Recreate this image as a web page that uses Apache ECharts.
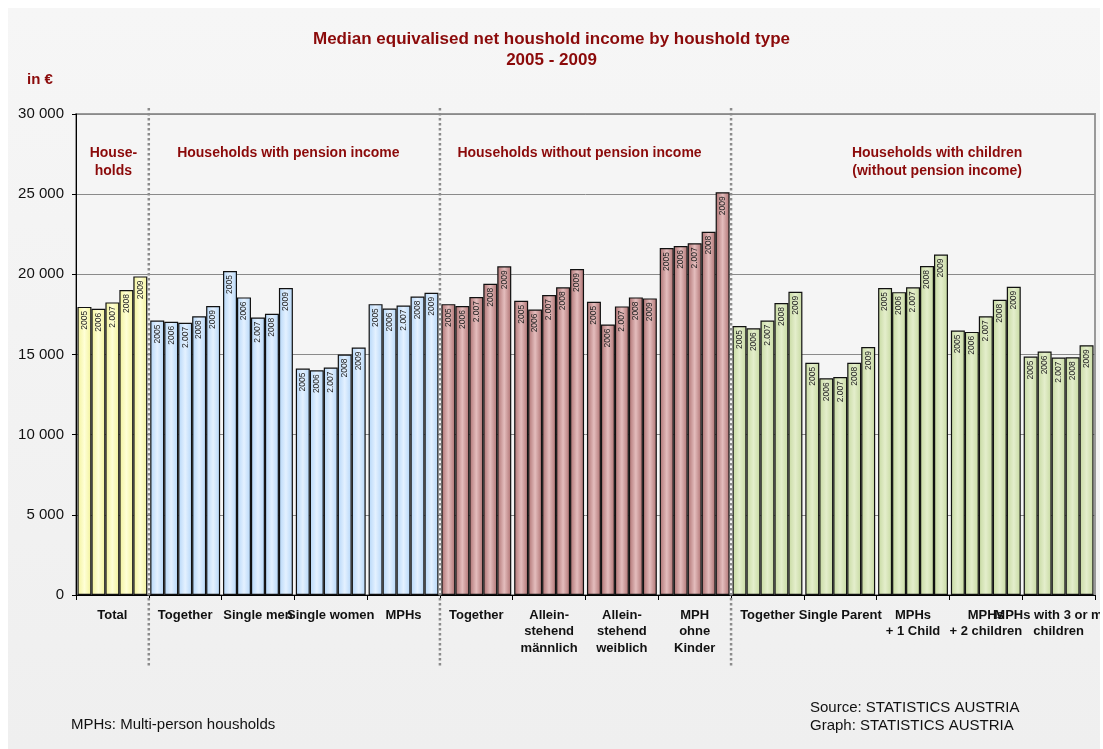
<!DOCTYPE html>
<html>
<head>
<meta charset="utf-8">
<script src="https://cdn.jsdelivr.net/npm/echarts@6/dist/echarts.min.js"></script>
<style>
  html, body { margin: 0; padding: 0; background: #ffffff; }
  #wrap { position: relative; width: 1103px; height: 749px; overflow: hidden; }
  #panel { position: absolute; left: 8px; top: 8px; width: 1092px; height: 741px;
           background: linear-gradient(#f6f6f6, #efefef); }
  #chart { position: absolute; left: 0; top: 0; width: 1103px; height: 749px; }
</style>
</head>
<body>
<div id="wrap"><div id="panel"></div><div id="chart"></div></div>
<script>
// Household types along the x axis
const categories = [
  'Total',
  'Together', 'Single men', 'Single women', 'MPHs',
  'Together', 'Allein-\nstehend\nmännlich', 'Allein-\nstehend\nweiblich', 'MPH\nohne\nKinder',
  'Together', 'Single Parent', 'MPHs\n+ 1 Child', 'MPHs\n+ 2 children', 'MPHs with 3 or more\nchildren'
];
// Which block each household type belongs to (0 all, 1 pension, 2 no pension, 3 children)
const groupOf = [0, 1, 1, 1, 1, 2, 2, 2, 2, 3, 3, 3, 3, 3];
// Year labels written inside the bars
const yearLabels = ['2005', '2006', '2.007', '2008', '2009'];
// Median equivalised net income in EUR per year
const v2005 = [17970, 17120, 20210, 14120, 18140, 18140, 18350, 18290, 21640, 16770, 14480, 19140, 16500, 14870];
const v2006 = [17850, 17040, 18560, 14020, 17870, 18020, 17810, 16870, 21770, 16640, 13520, 18890, 16410, 15190];
const v2007 = [18250, 16980, 17310, 14190, 18060, 18580, 18710, 18000, 21940, 17120, 13600, 19190, 17390, 14810];
const v2008 = [19020, 17390, 17540, 15000, 18620, 19410, 19190, 18560, 22660, 18210, 14480, 20520, 18410, 14830];
const v2009 = [19870, 18020, 19140, 15440, 18850, 20500, 20330, 18500, 25120, 18910, 15460, 21230, 19230, 15580];
// Block headings
const blockTitles = ['House-\nholds', 'Households with pension income', 'Households without pension income',
  'Households with children\n(without pension income)'];
const yTicks = [0, 5000, 10000, 15000, 20000, 25000, 30000];

const yearSeries = [v2005, v2006, v2007, v2008, v2009];
const DARK_RED = '#8b0a0a';
const FONT = '"Liberation Sans", Arial, sans-serif';

// Bar fills per block: edge colour and centre highlight
const fills = [
  ['#f2f29a', '#ffffd6'],
  ['#b4d6f8', '#e4f1ff'],
  ['#ad7070', '#e4bdbd'],
  ['#c6d9a0', '#e4eecc']
];
function fillFor(g) {
  const f = fills[g];
  return new echarts.graphic.LinearGradient(0, 0, 1, 0, [
    { offset: 0, color: f[0] },
    { offset: 0.5, color: f[1] },
    { offset: 1, color: f[0] }
  ]);
}

function fmt(v) {
  return String(v).replace(/\B(?=(\d{3})+(?!\d))/g, ' ');
}

const series = yearSeries.map((vals, k) => ({
  type: 'bar',
  name: yearLabels[k],
  barGap: '0%',
  barCategoryGap: '4%',
  data: vals.map((v, i) => ({
    value: v,
    itemStyle: { color: fillFor(groupOf[i]), borderColor: '#111', borderWidth: 1.2 }
  })),
  label: {
    show: true,
    position: 'insideTop',
    rotate: 90,
    align: 'right',
    verticalAlign: 'middle',
    distance: 4,
    fontSize: 8.5,
    fontFamily: FONT,
    color: '#222',
    formatter: () => yearLabels[k]
  }
}));

const chart = echarts.init(document.getElementById('chart'), null, { renderer: 'canvas' });
chart.setOption({
  backgroundColor: 'transparent',
  animation: false,
  textStyle: { fontFamily: FONT },
  title: {
    text: 'Median equivalised net houshold income by houshold type\n2005 - 2009',
    left: 'center',
    top: 24,
    textStyle: { fontSize: 17, fontWeight: 'bold', color: DARK_RED, lineHeight: 21, fontFamily: FONT }
  },
  grid: {
    left: 76, right: 8, top: 114, bottom: 154,
    containLabel: false,
    outerBoundsMode: 'none',
    show: true, backgroundColor: '#f5f5f5', borderColor: '#999', borderWidth: 2
  },
  xAxis: {
    type: 'category',
    data: categories,
    axisLine: { lineStyle: { color: '#000', width: 1 } },
    axisTick: { show: true, alignWithLabel: false, length: 5, lineStyle: { color: '#000' } },
    axisLabel: {
      interval: 0, hideOverlap: false, margin: 12, fontSize: 13, fontWeight: 'bold', color: '#111',
      lineHeight: 16.5, fontFamily: FONT
    }
  },
  yAxis: {
    type: 'value',
    min: yTicks[0], max: yTicks[yTicks.length - 1], interval: 5000,
    axisLine: { show: true, lineStyle: { color: '#000', width: 1 } },
    axisTick: { show: true, length: 4, lineStyle: { color: '#000' } },
    splitLine: { lineStyle: { color: '#8a8a8a', width: 1 } },
    axisLabel: { fontSize: 15, color: '#111', margin: 12, formatter: fmt, fontFamily: FONT }
  },
  series: series
});

// Block separators, headings and notes placed from the axis scales
function xAt(i) { return chart.convertToPixel({ xAxisIndex: 0 }, i); }
function yAt(v) { return chart.convertToPixel({ yAxisIndex: 0 }, v); }
function between(i) { return (xAt(i) + xAt(i + 1)) / 2; }

const sepAfter = [0, 4, 8];
const yTop = yAt(30000) - 6;
const yBottom = yAt(0) + 73;
const graphics = sepAfter.map(i => ({
  type: 'line',
  z: 50,
  shape: { x1: between(i), y1: yTop, x2: between(i), y2: yBottom },
  style: { stroke: '#8c8c8c', lineWidth: 2.5, lineDash: [2.5, 2.5] }
}));

const headY = yAt(28000) - 2;
const headX = [xAt(0) + 1, between(2) - 6, between(6) - 6, xAt(11) + 0.33 * (xAt(12) - xAt(11))];
blockTitles.forEach((t, b) => {
  graphics.push({
    type: 'text', z: 60,
    style: {
      x: headX[b], y: headY, text: t, textAlign: 'center', textVerticalAlign: 'top',
      font: 'bold 14px ' + FONT, fill: DARK_RED, lineHeight: 18
    }
  });
});

graphics.push(
  { type: 'text', z: 60, style: { x: 27, y: 72, text: 'in €', font: 'bold 15px ' + FONT, fill: DARK_RED } },
  { type: 'text', z: 60, style: { x: 71, y: 717, text: 'MPHs: Multi-person housholds',
      font: '15px ' + FONT, fill: '#111' } },
  { type: 'text', z: 60, style: { x: 810, y: 699, text: 'Source: STATISTICS AUSTRIA\nGraph: STATISTICS AUSTRIA',
      font: '15px ' + FONT, fill: '#111', lineHeight: 18 } },
  // white frame strip at the right edge of the page
  { type: 'rect', z: 100, shape: { x: 1100, y: 0, width: 3, height: 749 }, style: { fill: '#ffffff' } }
);

chart.setOption({ graphic: graphics });
</script>
</body>
</html>
